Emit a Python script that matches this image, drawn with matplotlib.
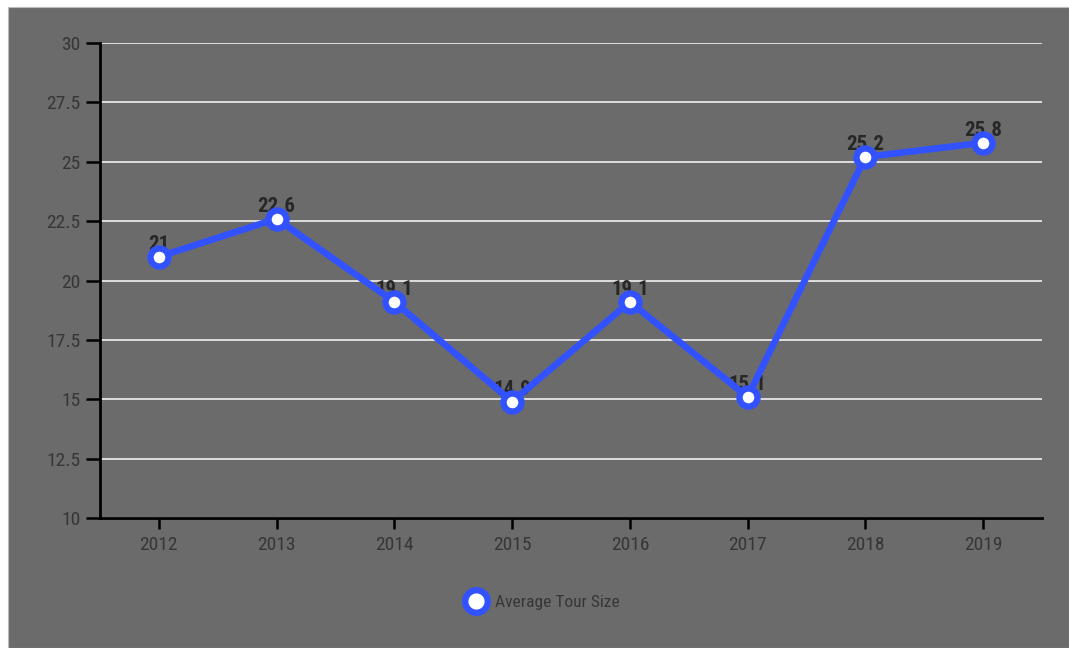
import matplotlib
matplotlib.use("Agg")
import matplotlib.pyplot as plt
from matplotlib.patches import Rectangle

years = ["2012", "2013", "2014", "2015", "2016", "2017", "2018", "2019"]
avg_tour_size = [21, 22.6, 19.1, 14.9, 19.1, 15.1, 25.2, 25.8]
value_labels = ["21", "22.6", "19.1", "14.9", "19.1", "15.1", "25.2", "25.8"]
y_ticks = [10, 12.5, 15, 17.5, 20, 22.5, 25, 27.5, 30]
y_tick_labels = ["10", "12.5", "15", "17.5", "20", "22.5", "25", "27.5", "30"]
series_name = "Average Tour Size"

plt.rcParams['font.family'] = ['Roboto Condensed', 'Liberation Sans Narrow', 'Roboto', 'DejaVu Sans']

W, H = 1069, 648
fig = plt.figure(figsize=(W / 100, H / 100), dpi=100, facecolor="white")
bg = "#6b6b6b"
fig.patches.append(Rectangle((8 / W, 0), 1, (H - 7) / H, transform=fig.transFigure,
                             facecolor=bg, edgecolor="#bbbbbb", linewidth=0.8, zorder=-5))

ax = fig.add_axes([100 / W, 1 - 518 / H, (1042 - 100) / W, (518 - 43) / H])
ax.set_facecolor("none")

blue = "#3352ff"
text_col = "#363636"
x = list(range(len(years)))
line, = ax.plot(x, avg_tour_size, color=blue, linewidth=4.8, marker="o",
                markersize=13, markerfacecolor="white", markeredgecolor=blue,
                markeredgewidth=4.6, zorder=4, label=series_name, clip_on=False)

for xi, v, lab in zip(x, avg_tour_size, value_labels):
    ax.annotate(lab, (xi, v), xytext=(0, 2), textcoords="offset points",
                ha="center", va="bottom", fontsize=15, color="#272727",
                fontweight="bold", zorder=3)

ax.set_xlim(-0.5, len(years) - 0.5)
ax.set_ylim(10, 30)
ax.set_yticks(y_ticks)
ax.set_yticklabels(y_tick_labels)
ax.set_xticks(x)
ax.set_xticklabels(years)
ax.yaxis.grid(True, color="#e6e6e6", linewidth=1.3)
ax.set_axisbelow(True)

for s in ["top", "right"]:
    ax.spines[s].set_visible(False)
for s in ["left", "bottom"]:
    ax.spines[s].set_color("black")
    ax.spines[s].set_linewidth(2)

ax.tick_params(axis="y", length=10, width=1.8, color="black", labelsize=14,
               labelcolor=text_col, pad=4)
ax.tick_params(axis="x", length=8, width=1.8, color="black", labelsize=14,
               labelcolor=text_col, pad=5)

leg = fig.legend(handles=[line], labels=[series_name], loc="center",
                 bbox_to_anchor=(548 / W, 1 - 602 / H), frameon=False,
                 fontsize=12.5, labelcolor=text_col, handlelength=0,
                 handletextpad=1.1, markerscale=1.25)

fig.savefig("out.png", dpi=100, facecolor="white")
